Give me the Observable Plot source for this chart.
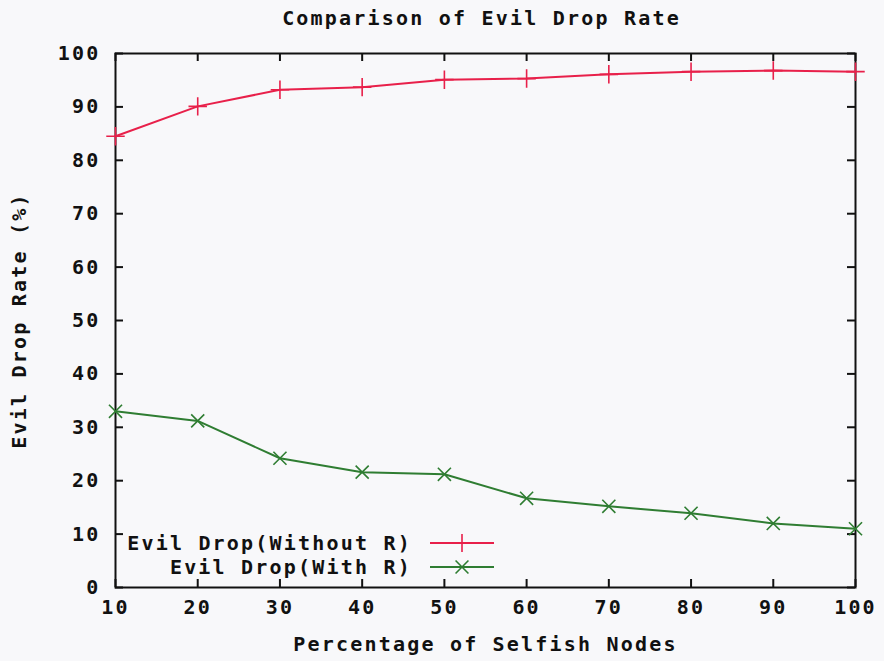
<!DOCTYPE html>
<html>
<head>
<meta charset="utf-8">
<script src="https://cdn.jsdelivr.net/npm/d3@7"></script>
<script src="https://cdn.jsdelivr.net/npm/@observablehq/plot@0.6"></script>
<style>
  html, body { margin: 0; padding: 0; background: #f8f8fa; }
  #wrap { position: relative; width: 884px; height: 661px; }
  svg text { font-family: "DejaVu Sans Mono", monospace; font-weight: bold; }
</style>
</head>
<body>
<div id="wrap"></div>
<script>
const titleText = "Comparison of Evil Drop Rate";
const xLabel = "Percentage of Selfish Nodes";
const yLabel = "Evil Drop Rate (%)";
const selfishPct = [10, 20, 30, 40, 50, 60, 70, 80, 90, 100];
const withoutR = [84.5, 90.1, 93.2, 93.7, 95.1, 95.3, 96.1, 96.6, 96.8, 96.6];
const withR = [33.0, 31.2, 24.2, 21.6, 21.2, 16.7, 15.2, 13.9, 12.0, 11.0];
const seriesNames = ["Evil Drop(Without R)", "Evil Drop(With R)"];
const seriesColors = ["#e8204a", "#2f7d32"];
const seriesSymbols = ["plus", "times"];
const xTicks = [10, 20, 30, 40, 50, 60, 70, 80, 90, 100];
const yTicks = [0, 10, 20, 30, 40, 50, 60, 70, 80, 90, 100];

const rows = [];
selfishPct.forEach((x, i) => {
  rows.push({x, y: withoutR[i], s: seriesNames[0]});
  rows.push({x, y: withR[i], s: seriesNames[1]});
});

const W = 884, H = 661;
const mL = 115, mR = 29, mT = 53, mB = 74;
const fw = W - mL - mR, fh = H - mT - mB;
const tl = 8;
const LS = "2.2px";

const chart = Plot.plot({
  width: W, height: H,
  marginLeft: mL, marginRight: mR, marginTop: mT, marginBottom: mB,
  style: {background: "transparent", fontSize: "20px", fontFamily: "DejaVu Sans Mono, monospace", fontWeight: "bold", color: "#111", letterSpacing: LS},
  x: {domain: [10, 100], ticks: xTicks, tickSize: 0, tickPadding: 12, label: xLabel, labelAnchor: "center", labelOffset: 63, labelArrow: "none"},
  y: {domain: [0, 100], ticks: yTicks, tickSize: 0, tickPadding: 15, label: yLabel, labelAnchor: "center", labelOffset: 104, labelArrow: "none"},
  color: {domain: seriesNames, range: seriesColors},
  symbol: {domain: seriesNames, range: seriesSymbols},
  marks: [
    Plot.frame({stroke: "#111", strokeWidth: 2}),
    Plot.tickX(xTicks, {x: d => d, insetTop: fh - tl, stroke: "#111", strokeWidth: 2}),
    Plot.tickX(xTicks, {x: d => d, insetBottom: fh - tl, stroke: "#111", strokeWidth: 2}),
    Plot.tickY(yTicks, {y: d => d, insetRight: fw - tl, stroke: "#111", strokeWidth: 2}),
    Plot.tickY(yTicks, {y: d => d, insetLeft: fw - tl, stroke: "#111", strokeWidth: 2}),
    Plot.line(rows, {x: "x", y: "y", z: "s", stroke: "s", strokeWidth: 2}),
    Plot.dot(rows, {x: "x", y: "y", stroke: "s", symbol: "s", r: 6, strokeWidth: 1.6}),
    Plot.text([titleText], {text: d => d, frameAnchor: "top", dy: -43, dx: -4, fontSize: 20, fill: "#111"})
  ]
});
document.getElementById("wrap").appendChild(chart);

// Legend drawn inside the frame, lower-left, in pixel space
const svg = d3.select(chart);
const legendY = [543, 567];
const leg = svg.append("g");
seriesNames.forEach((name, i) => {
  leg.append("text").attr("x", 412).attr("y", legendY[i]).attr("dy", "0.35em")
    .attr("text-anchor", "end").attr("font-size", 20).attr("fill", "#111")
    .style("letter-spacing", LS).text(name);
  leg.append("line").attr("x1", 430).attr("x2", 494).attr("y1", legendY[i]).attr("y2", legendY[i])
    .attr("stroke", seriesColors[i]).attr("stroke-width", 2);
  const sym = d3.symbol(i === 0 ? d3.symbolPlus : d3.symbolTimes, 110);
  leg.append("path").attr("d", sym()).attr("transform", `translate(462,${legendY[i]})`)
    .attr("fill", "none").attr("stroke", seriesColors[i]).attr("stroke-width", 1.6);
});
</script>
</body>
</html>
